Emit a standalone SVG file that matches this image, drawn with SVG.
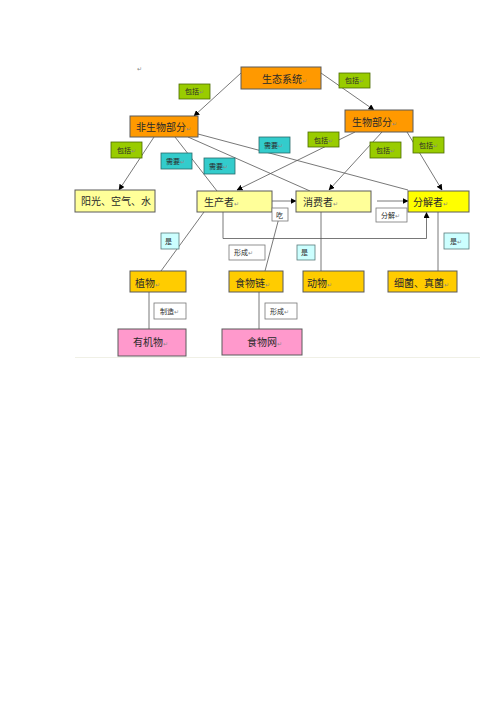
<svg xmlns="http://www.w3.org/2000/svg" width="500" height="708" viewBox="0 0 500 708">
<defs>
<marker id="arr" markerWidth="6" markerHeight="6" refX="5.5" refY="3" orient="auto" markerUnits="userSpaceOnUse">
<path d="M0,0 L6,3 L0,6 Z" fill="#000"/>
</marker>
<style>
.n{stroke:#5a5a5a;stroke-width:1}
.or{fill:#FF9900}
.ly{fill:#FFFF99}
.ye{fill:#FFFF00}
.go{fill:#FFCC00}
.pk{fill:#FF99CC}
.gr{fill:#99CC00;stroke:#4a6a00;stroke-width:0.8}
.tl{fill:#33CCCC;stroke:#2a6a6a;stroke-width:0.8}
.cy{fill:#CCFFFF;stroke:#5a7a7a;stroke-width:0.8}
.wh{fill:#FFFFFF;stroke:#777;stroke-width:0.8}
text{font-family:"Noto Sans CJK SC","Noto Sans",sans-serif;fill:#2a2a2a}
.t{font-size:10px}
.s{font-size:7px}
.m{font-size:6px;fill:#888}
.c line,.c polyline{stroke:#555;stroke-width:0.8;fill:none}
</style>
</defs>
<rect width="500" height="708" fill="#fff"/>
<line x1="75" y1="357.5" x2="480" y2="357.5" stroke="#f0f0e6" stroke-width="1"/>
<text x="137" y="71" class="m">↵</text>

<g class="c" id="connectors">
<line x1="241" y1="73" x2="194" y2="116" marker-end="url(#arr)"/>
<line x1="321" y1="73" x2="374" y2="110" marker-end="url(#arr)"/>
<line x1="154" y1="137" x2="119" y2="190" marker-end="url(#arr)"/>
<line x1="175" y1="137" x2="217" y2="191"/>
<line x1="188" y1="137" x2="310" y2="191"/>
<line x1="198" y1="134" x2="408" y2="190"/>
<line x1="355" y1="132" x2="237" y2="190" marker-end="url(#arr)"/>
<line x1="382" y1="132" x2="329" y2="190" marker-end="url(#arr)"/>
<line x1="407" y1="132" x2="442" y2="190" marker-end="url(#arr)"/>
<line x1="272" y1="201" x2="296" y2="201" marker-end="url(#arr)"/>
<line x1="377" y1="201" x2="408" y2="201" marker-end="url(#arr)"/>
<polyline points="223,212 223,238.5 426.5,238.5 426.5,212.5" marker-end="url(#arr)"/>
<line x1="204" y1="212" x2="161" y2="271"/>
<line x1="280" y1="214" x2="265" y2="271"/>
<line x1="321" y1="212" x2="321" y2="271"/>
<line x1="438" y1="212" x2="438" y2="271"/>
<line x1="149" y1="292" x2="149" y2="329"/>
<line x1="259" y1="292" x2="259" y2="329"/>
</g>

<g id="n-ecosystem"><rect class="n or" x="241" y="67" width="80" height="22"/><text class="t" x="262" y="83">生态系统<tspan class="m">↵</tspan></text></g>
<g id="n-abiotic"><rect class="n or" x="130" y="116" width="68" height="21"/><text class="t" x="136" y="131">非生物部分<tspan class="m">↵</tspan></text></g>
<g id="n-biotic"><rect class="n or" x="345" y="110" width="68" height="22"/><text class="t" x="352" y="126">生物部分<tspan class="m">↵</tspan></text></g>
<g id="n-sun"><rect class="n ly" x="75" y="190" width="80" height="22"/><text class="t" x="81" y="205">阳光、空气、水</text></g>
<g id="n-producer"><rect class="n ly" x="197" y="191" width="75" height="21"/><text class="t" x="204" y="206">生产者<tspan class="m">↵</tspan></text></g>
<g id="n-consumer"><rect class="n ly" x="296" y="191" width="75" height="21"/><text class="t" x="303" y="206">消费者<tspan class="m">↵</tspan></text></g>
<g id="n-decomposer"><rect class="n ye" x="408" y="191" width="61" height="21"/><text class="t" x="413" y="206">分解者<tspan class="m">↵</tspan></text></g>
<g id="n-plant"><rect class="n go" x="130" y="271" width="56" height="21"/><text class="t" x="135" y="287">植物<tspan class="m">↵</tspan></text></g>
<g id="n-chain"><rect class="n go" x="229" y="271" width="54" height="21"/><text class="t" x="235" y="287">食物链<tspan class="m">↵</tspan></text></g>
<g id="n-animal"><rect class="n go" x="303" y="271" width="61" height="21"/><text class="t" x="307" y="287">动物<tspan class="m">↵</tspan></text></g>
<g id="n-bacteria"><rect class="n go" x="388" y="271" width="69" height="21"/><text class="t" x="394" y="287">细菌、真菌<tspan class="m">↵</tspan></text></g>
<g id="n-organic"><rect class="n pk" x="118" y="329" width="68" height="27"/><text class="t" x="133" y="346">有机物<tspan class="m">↵</tspan></text></g>
<g id="n-web"><rect class="n pk" x="222" y="329" width="80" height="26"/><text class="t" x="247" y="346">食物网<tspan class="m">↵</tspan></text></g>

<g id="l-inc1"><rect class="gr" x="179" y="84" width="31" height="15"/><text class="s" x="185" y="94">包括<tspan class="m">↵</tspan></text></g>
<g id="l-inc2"><rect class="gr" x="339" y="73" width="31" height="15"/><text class="s" x="345" y="83">包括<tspan class="m">↵</tspan></text></g>
<g id="l-inc3"><rect class="gr" x="111" y="142" width="31" height="16"/><text class="s" x="117" y="152.5">包括<tspan class="m">↵</tspan></text></g>
<g id="l-inc4"><rect class="gr" x="308" y="132" width="31" height="15"/><text class="s" x="314" y="142.5">包括<tspan class="m">↵</tspan></text></g>
<g id="l-inc5"><rect class="gr" x="370" y="142" width="31" height="16"/><text class="s" x="376" y="152.5">包括<tspan class="m">↵</tspan></text></g>
<g id="l-inc6"><rect class="gr" x="413" y="137" width="31" height="16"/><text class="s" x="419" y="147.5">包括<tspan class="m">↵</tspan></text></g>
<g id="l-need1"><rect class="tl" x="161" y="153" width="31" height="16"/><text class="s" x="166" y="163.5">需要<tspan class="m">↵</tspan></text></g>
<g id="l-need2"><rect class="tl" x="204" y="158" width="31" height="16"/><text class="s" x="209" y="168.5">需要<tspan class="m">↵</tspan></text></g>
<g id="l-need3"><rect class="tl" x="259" y="137" width="31" height="16"/><text class="s" x="264" y="147.5">需要<tspan class="m">↵</tspan></text></g>
<g id="l-eat"><rect class="wh" x="272" y="208" width="16" height="13"/><text class="s" x="276" y="217.5">吃</text></g>
<g id="l-form1"><rect class="wh" x="229" y="245" width="36" height="15"/><text class="s" x="234" y="255">形成<tspan class="m">↵</tspan></text></g>
<g id="l-decomp"><rect class="wh" x="376" y="208" width="31" height="14"/><text class="s" x="381" y="217.5">分解<tspan class="m">↵</tspan></text></g>
<g id="l-is1"><rect class="cy" x="161" y="233" width="18" height="16"/><text class="s" x="165" y="243.5">是</text></g>
<g id="l-is2"><rect class="cy" x="297" y="245" width="18" height="15"/><text class="s" x="301" y="255">是</text></g>
<g id="l-is3"><rect class="cy" x="444" y="233" width="25" height="16"/><text class="s" x="450" y="243.5">是<tspan class="m">↵</tspan></text></g>
<g id="l-make"><rect class="wh" x="154" y="303" width="32" height="16"/><text class="s" x="160" y="313.5">制造<tspan class="m">↵</tspan></text></g>
<g id="l-form2"><rect class="wh" x="265" y="303" width="32" height="16"/><text class="s" x="270" y="313.5">形成<tspan class="m">↵</tspan></text></g>
</svg>
